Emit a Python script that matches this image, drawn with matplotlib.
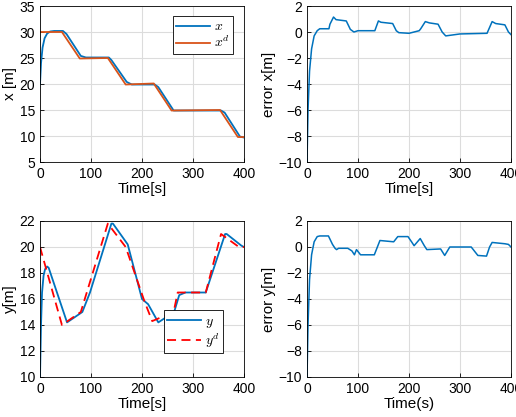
import matplotlib.pyplot as plt

plt.rcParams['font.family'] = ['Liberation Sans', 'DejaVu Sans']
plt.rcParams['mathtext.fontset'] = 'cm'

BLUE = '#0072BD'
ORANGE = '#D95319'

# x tracking
xd_t = [0, 43, 78, 133, 168, 223, 258, 353, 388, 400]
xd_v = [30, 30, 24.9, 25.0, 19.9, 20.1, 14.9, 15.0, 9.8, 9.8]
x_t = [0, 2, 5, 9, 14, 20, 28, 45, 52, 80, 90, 135, 140, 170, 180, 225, 232, 262, 272, 355, 362, 392, 400]
x_v = [20, 24, 27, 28.8, 29.7, 30.1, 30.2, 30.2, 29.6, 25.4, 25.1, 25.1, 24.6, 20.4, 19.9, 19.9, 19.4, 14.9, 14.9, 14.9, 14.5, 9.9, 9.7]

# x error
ex_t = [0, 2, 5, 9, 14, 20, 25, 43, 45, 52, 57, 77, 85, 92, 100, 133, 140, 145, 168, 175, 180, 200, 220, 223, 232, 240, 257, 265, 272, 300, 353, 363, 370, 388, 395, 400]
ex_v = [-10, -6, -3, -1.3, -0.3, 0.1, 0.25, 0.25, 0.6, 1.15, 0.95, 0.85, 0.2, 0.0, 0.1, 0.1, 0.85, 0.75, 0.65, 0.1, -0.05, -0.1, 0.1, 0.25, 0.8, 0.7, 0.6, 0.0, -0.3, -0.15, -0.1, 0.8, 0.65, 0.55, 0.0, -0.2]

# y tracking
yd_t = [0, 43, 80, 133, 168, 205, 220, 262, 270, 325, 355, 390, 400]
yd_v = [20, 14.0, 15.0, 21.8, 20.0, 15.8, 14.3, 15.0, 16.5, 16.5, 21.0, 20.0, 20.0]
y_t = [0, 2, 4, 7, 10, 14, 17, 53, 83, 98, 140, 143, 172, 200, 212, 232, 263, 273, 285, 325, 363, 366, 395, 400]
y_v = [10, 14, 16.5, 17.8, 18.3, 18.5, 18.4, 14.2, 15.0, 16.5, 21.8, 21.8, 20.2, 16.0, 15.6, 14.2, 15.0, 16.3, 16.5, 16.5, 21.0, 21.0, 20.1, 20.0]

# y error
ey_t = [0, 2, 5, 9, 14, 20, 25, 42, 50, 55, 58, 62, 80, 88, 93, 97, 105, 132, 138, 143, 170, 178, 198, 205, 210, 222, 230, 235, 262, 270, 280, 322, 330, 335, 352, 358, 363, 388, 395, 400]
ey_v = [-10, -6, -2.5, -0.6, 0.4, 0.8, 0.85, 0.85, 0.2, -0.1, -0.2, -0.1, -0.1, -0.3, -0.6, -0.2, -0.6, -0.6, 0.0, 0.5, 0.4, 0.8, 0.8, 0.4, 0.1, 0.65, 0.1, -0.2, -0.15, -0.65, 0.0, 0.0, -0.4, -0.65, -0.7, 0.0, 0.35, 0.25, 0.2, 0.0]


def style_axes(ax, ylim, yticks, xlabel, ylabel):
    ax.set_xlim(0, 400)
    ax.set_ylim(*ylim)
    ax.set_xticks([0, 100, 200, 300, 400])
    ax.set_yticks(yticks)
    ax.grid(True, color='#dcdcdc', linewidth=0.8)
    ax.set_axisbelow(True)
    ax.tick_params(direction='in', length=3, labelsize=10, width=0.6)
    for s in ax.spines.values():
        s.set_linewidth(0.6)
    ax.set_xlabel(xlabel, fontsize=11, labelpad=1)
    ax.set_ylabel(ylabel, fontsize=11, labelpad=2)


def add_legend(ax, loc, anchor):
    leg = ax.legend(loc=loc, bbox_to_anchor=anchor, fontsize=10, fancybox=False,
                    edgecolor='black', framealpha=1, handlelength=2.4, handletextpad=0.3,
                    borderpad=0.25, labelspacing=0.1, borderaxespad=0)
    leg.get_frame().set_linewidth(0.6)
    return leg


fig = plt.figure(figsize=(5.16, 4.17), dpi=100)
W, H = 516, 417

ax1 = fig.add_axes([40 / W, 1 - 162 / H, 204 / W, 156 / H])
ax2 = fig.add_axes([307 / W, 1 - 162 / H, 204 / W, 156 / H])
ax3 = fig.add_axes([40 / W, 1 - 377 / H, 204 / W, 156 / H])
ax4 = fig.add_axes([307 / W, 1 - 377 / H, 204 / W, 156 / H])

ax1.plot(x_t, x_v, color=BLUE, lw=1.3, label='$x$')
ax1.plot(xd_t, xd_v, color=ORANGE, lw=1.3, label='$x^d$')
style_axes(ax1, (5, 35), range(5, 36, 5), 'Time[s]', 'x [m]')
add_legend(ax1, 'upper right', ((233 - 40) / 204, (162 - 16) / 156))

ax2.plot(ex_t, ex_v, color=BLUE, lw=1.1)
style_axes(ax2, (-10, 2), range(-10, 3, 2), 'Time[s]', 'error x[m]')

ax3.plot(y_t, y_v, color=BLUE, lw=1.3, label='$y$')
ax3.plot(yd_t, yd_v, 'r--', lw=1.3, dashes=(5, 3), label='$y^d$')
style_axes(ax3, (10, 22), range(10, 23, 2), 'Time[s]', 'y[m]')
add_legend(ax3, 'lower right', ((223 - 40) / 204, (377 - 353) / 156))

ax4.plot(ey_t, ey_v, color=BLUE, lw=1.1)
style_axes(ax4, (-10, 2), range(-10, 3, 2), 'Time(s)', 'error y[m]')

fig.savefig('out.png', dpi=100)
